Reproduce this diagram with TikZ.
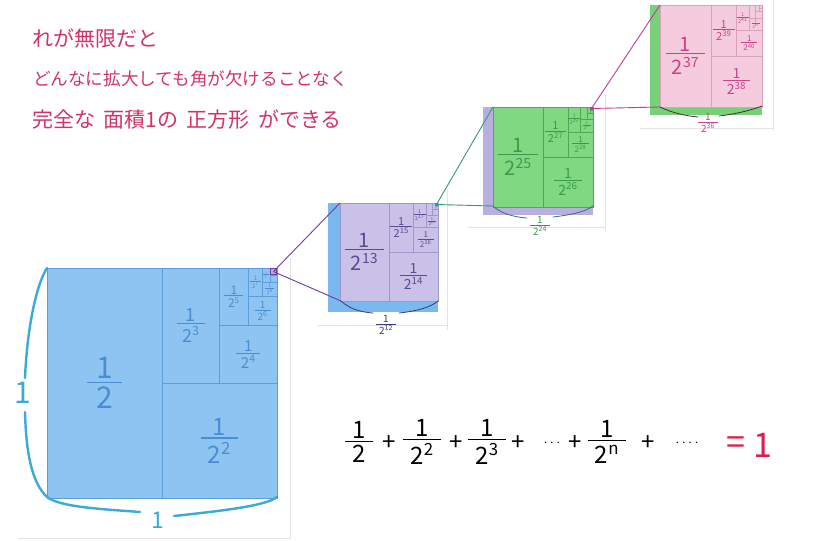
\documentclass[tikz,border=0pt]{standalone}
\usepackage{fontspec}
\setmainfont{Noto Sans CJK JP}
\definecolor{headc}{HTML}{D23468}
\definecolor{bfill}{HTML}{8EC4F2}
\definecolor{bline}{HTML}{5A9EE0}
\definecolor{btext}{HTML}{4A8ED0}
\definecolor{bbrace}{HTML}{3AAAD8}
\definecolor{bstrip}{HTML}{7AB8F0}
\definecolor{pfill}{HTML}{C9C1E7}
\definecolor{pline}{HTML}{A096CC}
\definecolor{ptext}{HTML}{5A4A92}
\definecolor{pstrip}{HTML}{B8AEE0}
\definecolor{gfill}{HTML}{80D880}
\definecolor{gline}{HTML}{52A852}
\definecolor{gtext}{HTML}{3A9A50}
\definecolor{gstrip}{HTML}{78D078}
\definecolor{kfill}{HTML}{F5CCDE}
\definecolor{kline}{HTML}{D8A2BC}
\definecolor{ktext}{HTML}{D0408A}
\definecolor{eqred}{HTML}{D81E50}
\definecolor{pconn}{HTML}{6E3EA0}
\definecolor{gconn}{HTML}{2E9E72}
\definecolor{kconn}{HTML}{C03C9E}
\definecolor{pbrace}{HTML}{3A3A80}
\definecolor{gbrace}{HTML}{2A7A6A}
\definecolor{kbrace}{HTML}{4A2A3A}
\definecolor{edgec}{HTML}{E4E4E4}
\newcommand\fs[1]{\fontsize{#1}{#1}\selectfont}
\newcommand\pw[1]{2\textsuperscript{#1}}
\newcommand\fr[1]{\vbox{\offinterlineskip\halign{\hfil##\hfil\cr 1\cr\noalign{\kern.1em\hrule height .045em\kern.14em}\kern.3em#1\kern.3em\cr}}}
\newcommand\sqgrid[1]{\draw[#1] (0,0) rectangle (1,1) (.5,0)--(.5,1) (.5,.5)--(1,.5) (.75,0)--(.75,.5) (.75,.25)--(1,.25) (.875,0)--(.875,.25) (.875,.125)--(1,.125) (.9375,0)--(.9375,.125) (.9375,.0625)--(1,.0625) (.96875,0)--(.96875,.0625) (.96875,.03125)--(1,.03125);}
\newcommand\magsq[8]{%
\begin{scope}[shift={(#1,#2)},x=#3pt,y=-#3pt]
\fill[#5] (0,0) rectangle (1,1);
\sqgrid{#6,line width=.5pt}
\node[lab,text=#7,font=\fs{20}] (#8a) at (.25,.5) {\fr{\pw{#4}}};
\node[lab,text=#7,font=\fs{14}] (#8b) at (.75,.75) {\fr{\pw{\the\numexpr#4+1\relax}}};
\node[lab,text=#7,font=\fs{11}] (#8c) at (.625,.25) {\fr{\pw{\the\numexpr#4+2\relax}}};
\node[lab,text=#7,font=\fs{8}] (#8d) at (.875,.375) {\fr{\pw{\the\numexpr#4+3\relax}}};
\node[lab,text=#7,font=\fs{5}] (#8e) at (.8125,.125) {\fr{\pw{\the\numexpr#4+4\relax}}};
\node[lab,text=#7,font=\fs{4}] (#8f) at (.9375,.1875) {\fr{\pw{\the\numexpr#4+5\relax}}};
\end{scope}}
\tikzset{
  lab/.style={inner sep=0pt},
  head/.style={anchor=west,inner sep=0pt,text=headc},
  bigbrace/.style={bbrace,line width=2.4pt,line cap=round},
  thinbrace/.style={line width=.8pt,line cap=round},
  edgeline/.style={edgec,line width=.6pt},
  eqtxt/.style={inner sep=0pt,text=black}
}
\begin{document}
\begin{tikzpicture}[x=1pt,y=-1pt]
\useasboundingbox[fill=white] (0,0) rectangle (828,541);
% faint paper edges
\draw[edgeline] (290,258)--(290,538)--(18,538);
\draw[edgeline] (318,325)--(447,325) (447,190)--(447,330);
\draw[edgeline] (468,227)--(605,227) (605,95)--(605,232);
\draw[edgeline] (640,128)--(773,128) (773,0)--(773,130);
% heading
\node[head,font=\fs{21}] (t1) at (32,38) {れが無限だと};
\node[head,font=\fs{17.6}] (t2) at (33,79) {どんなに拡大しても角が欠けることなく};
\node[head,font=\fs{21}] (t3) at (32,120) {完全な\hspace{.4em}面積1の\hspace{.4em}正方形\hspace{.4em}ができる};
% big square
\begin{scope}[shift={(47,268)},x=230pt,y=-230pt]
\fill[bfill] (0,0) rectangle (1,1);
\sqgrid{bline,line width=.6pt}
\node[lab,text=btext,font=\fs{30}] (b1) at (.25,.5) {\fr{2}};
\node[lab,text=btext,font=\fs{24}] (b2) at (.75,.75) {\fr{\pw{2}}};
\node[lab,text=btext,font=\fs{18}] (b3) at (.625,.25) {\fr{\pw{3}}};
\node[lab,text=btext,font=\fs{15}] (b4) at (.875,.375) {\fr{\pw{4}}};
\node[lab,text=btext,font=\fs{12}] (b5) at (.8125,.125) {\fr{\pw{5}}};
\node[lab,text=btext,font=\fs{10}] (b6) at (.9375,.1875) {\fr{\pw{6}}};
\node[lab,text=btext,font=\fs{6}] (b7) at (.90625,.0625) {\fr{\pw{7}}};
\node[lab,text=btext,font=\fs{5}] (b8) at (.96875,.09375) {\fr{\pw{8}}};
\node[lab,text=btext,font=\fs{3.5}] (b9) at (.953125,.03125) {\fr{\pw{9}}};
\end{scope}
% magnified squares
\fill[bstrip] (328,203) rectangle (438,312);
\magsq{340}{203}{98}{13}{pfill}{pline}{ptext}{p}
\fill[pstrip] (483,107) rectangle (593,215);
\magsq{493}{107}{100}{25}{gfill}{gline}{gtext}{g}
\fill[gstrip] (650,5) rectangle (762,115);
\magsq{660}{5}{102}{37}{kfill}{kline}{ktext}{k}
% corner coordinates
\coordinate (BTL) at (47,268);
\coordinate (BBL) at (47,497);
\coordinate (BBR) at (277,497);
\coordinate (PTL) at (340,203);
\coordinate (PBL) at (341,301);
\coordinate (PBR) at (438,301);
\coordinate (GTL) at (493,107);
\coordinate (GBL) at (493,206);
\coordinate (GBR) at (593,206);
\coordinate (KTL) at (660,5);
\coordinate (KBL) at (660,107);
\coordinate (KBR) at (762,106);
% markers
\node[draw=pconn,fill=pstrip,line width=.8pt,minimum size=6pt,inner sep=0pt] (m1) at (273.4,271.6) {};
\node[fill=gconn,minimum size=3pt,inner sep=0pt] (m2) at (436.5,204.5) {};
\node[fill=kconn,minimum size=3pt,inner sep=0pt] (m3) at (591.5,108.5) {};
% connectors
\draw[pconn,line width=.9pt] (m1.center)--(PTL) (m1.center)--(PBL);
\draw[gconn,line width=.9pt] (m2.center)--(GTL) (m2.center)--(GBL);
\draw[kconn,line width=.9pt] (m3.center)--(KTL) (m3.center)--(KBL);
% big braces
\node[lab,text=bbrace,font=\fs{30}] (one1) at (23,393) {1};
\node[lab,text=bbrace,font=\fs{23}] (one2) at (158,520) {1};
\draw[bigbrace] (BTL) .. controls (36,285) and (27,330) .. (25,378);
\draw[bigbrace] (25,412) .. controls (26,450) and (31,482) .. (BBL);
\draw[bigbrace] (BBL) .. controls (60,507) and (100,509) .. (140,512);
\draw[bigbrace] (174,516) .. controls (220,511) and (266,506) .. (BBR);
% small braces
\node[lab,text=pbrace,font=\fs{10}] (pw) at (386,325) {\fr{\pw{12}}};
\draw[thinbrace,pbrace] (PBL) .. controls (350,309) and (360,312) .. (373,313);
\draw[thinbrace,pbrace] (399,313) .. controls (418,311) and (431,307) .. (PBR);
\node[lab,text=gtext,font=\fs{10}] (gw) at (540,226) {\fr{\pw{24}}};
\draw[thinbrace,gbrace] (GBL) .. controls (500,213) and (513,217) .. (527,218);
\draw[thinbrace,gbrace] (553,217) .. controls (570,215) and (585,212) .. (GBR);
\node[lab,text=ktext,font=\fs{10}] (kw) at (708,123) {\fr{\pw{36}}};
\draw[thinbrace,kbrace] (KBL) .. controls (670,112) and (685,116) .. (698,117);
\draw[thinbrace,kbrace] (719,116) .. controls (736,114) and (752,110) .. (KBR);
% formula
\node[eqtxt,font=\fs{24}] (f1) at (359,442) {\fr{2}};
\node[eqtxt,font=\fs{24}] (s1) at (389,443) {+};
\node[eqtxt,font=\fs{24}] (f2) at (422,442) {\fr{\pw{2}}};
\node[eqtxt,font=\fs{24}] (s2) at (456,443) {+};
\node[eqtxt,font=\fs{24}] (f3) at (487,442) {\fr{\pw{3}}};
\node[eqtxt,font=\fs{24}] (s3) at (518,443) {+};
\node[eqtxt,font=\fs{14}] (d1) at (552,443) {$\cdots$};
\node[eqtxt,font=\fs{24}] (s4) at (575,443) {+};
\node[eqtxt,font=\fs{24}] (f4) at (607,442) {\fr{\pw{n}}};
\node[eqtxt,font=\fs{24}] (s5) at (648,443) {+};
\node[eqtxt,font=\fs{14}] (d2) at (687,443) {${\cdot}\,{\cdot}\,{\cdot}\,{\cdot}$};
\node[inner sep=0pt,text=eqred,font=\fs{34}] (eq) at (736,446) {=};
\node[inner sep=0pt,text=eqred,font=\fs{34}] (res) at (763,445) {1};
\end{tikzpicture}
\end{document}
